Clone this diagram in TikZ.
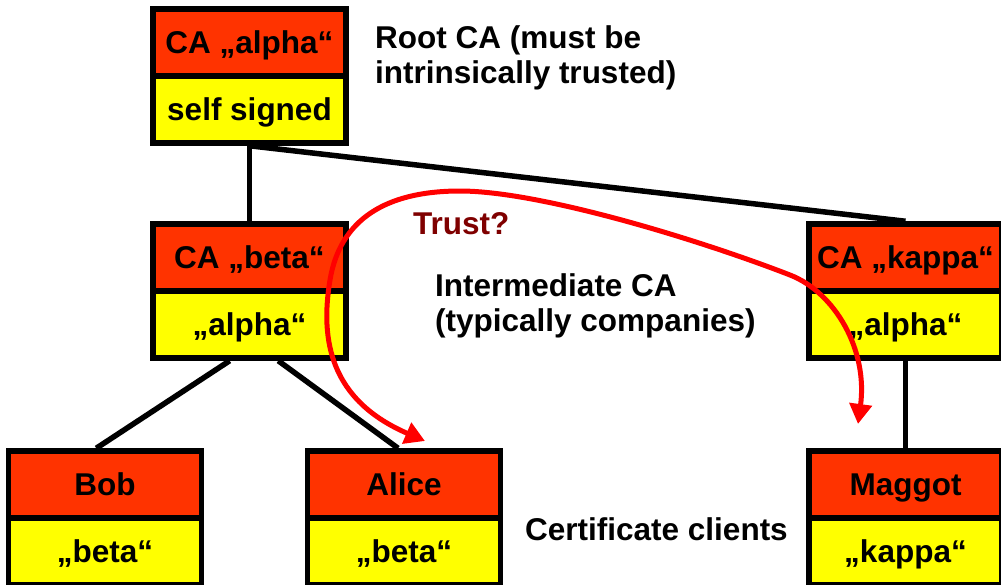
\documentclass[tikz,border=0pt]{standalone}
\usepackage{fontspec}
\setmainfont{Liberation Sans}
\usetikzlibrary{arrows.meta,backgrounds,calc}
\definecolor{certred}{HTML}{FF3300}
\definecolor{certyellow}{HTML}{FFFF00}
\definecolor{trustred}{HTML}{FF0000}
\definecolor{trustlabel}{HTML}{7F0000}
\tikzset{
  lbl/.style={font=\bfseries\fontsize{31.5}{34.5}\selectfont, inner sep=0pt},
  half/.style={lbl, draw=black, line width=5.5pt, minimum width=193pt,
               minimum height=67pt, text height=22.5pt, text depth=0pt},
  subject/.style={half, fill=certred},
  issuer/.style={half, fill=certyellow},
  link/.style={line width=5.5pt, draw=black},
  trust/.style={line width=5pt, draw=trustred,
                {Triangle[length=20pt,width=22pt]}-{Triangle[length=20pt,width=22pt]}},
  note/.style={lbl, align=left, anchor=base west},
}
\begin{document}
\begin{tikzpicture}[x=1pt,y=-1pt]
\useasboundingbox (0,0) rectangle (1001,584);

% certificates: subject (top) and issuer (bottom)
\node[subject] (alphaT) at (249.5,42.5)  {CA „alpha“};
\node[issuer]  (alphaB) at (249.5,109.5) {self signed};
\node[subject] (betaT)  at (249.5,257.5) {CA „beta“};
\node[issuer]  (betaB)  at (249.5,324.5) {„alpha“};
\node[subject] (kappaT) at (905.5,257.5) {CA „kappa“};
\node[issuer]  (kappaB) at (905.5,324.5) {„alpha“};
\node[subject] (bobT)   at (105,484.5)   {Bob};
\node[issuer]  (bobB)   at (105,551.5)   {„beta“};
\node[subject] (aliceT) at (404,484.5)   {Alice};
\node[issuer]  (aliceB) at (404,551.5)   {„beta“};
\node[subject] (maggotT) at (905.5,484.5) {Maggot};
\node[issuer]  (maggotB) at (905.5,551.5) {„kappa“};

% hierarchy links
\begin{scope}[on background layer]
  \draw[link] (alphaB.south) -- (betaT.north);
  \draw[link] (alphaB.south) -- (kappaT.north);
  \draw[link] ($(betaB.south west)!0.40!(betaB.south east)$)
           -- ($(bobT.north west)!0.456!(bobT.north east)$);
  \draw[link] ($(betaB.south west)!0.645!(betaB.south east)$)
           -- ($(aliceT.north west)!0.47!(aliceT.north east)$);
  \draw[link] (kappaB.south) -- (maggotT.north);
\end{scope}

% labels (base anchor of a two-line label sits on its last line)
\node[note] (rootlbl) at (375,83) {Root CA (must be\\intrinsically trusted)};
\node[note] (interlbl) at (435,331) {Intermediate CA\\(typically companies)};
\node[note] (clientlbl) at (525,540) {Certificate clients};
\node[note, text=trustlabel] (trustlbl) at (413,234) {Trust?};

% trust question between the two branches
\coordinate (trustA) at (425,441);
\coordinate (trustM) at (858,424);
\draw[trust] (trustA) .. controls (330,400) and (320,340) .. (330,280)
  .. controls (340,220) and (385,191) .. (460,191)
  .. controls (540,191) and (700,240) .. (790,275)
  .. controls (835,292.5) and (868,350) .. (trustM);
\end{tikzpicture}
\end{document}
